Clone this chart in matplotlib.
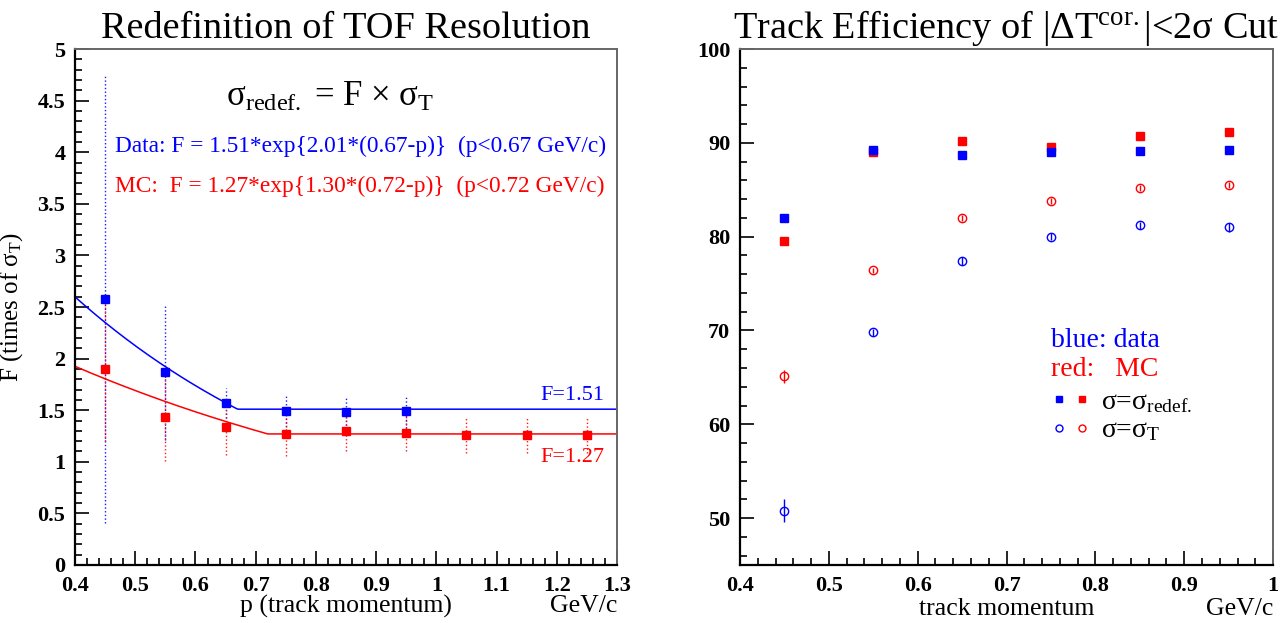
import matplotlib
matplotlib.use('Agg')
import matplotlib.pyplot as plt
import numpy as np
from matplotlib.ticker import MultipleLocator
from matplotlib.legend_handler import HandlerTuple

plt.rcParams['font.family'] = ['Liberation Serif', 'DejaVu Serif']
plt.rcParams['mathtext.fontset'] = 'custom'
plt.rcParams['mathtext.rm'] = 'Liberation Serif'
plt.rcParams['mathtext.it'] = 'Liberation Serif:italic'
plt.rcParams['mathtext.bf'] = 'Liberation Serif:bold'

# Left panel data: resolution factor F vs momentum
p_left = [0.45, 0.55, 0.65, 0.75, 0.85, 0.95, 1.05, 1.15, 1.25]
f_data = [2.58, 1.87, 1.57, 1.49, 1.48, 1.49]
f_data_err = [2.17, 0.66, 0.15, 0.15, 0.16, 0.16]
f_mc = [1.90, 1.43, 1.34, 1.27, 1.30, 1.28, 1.26, 1.26, 1.26]
f_mc_err = [0.70, 0.42, 0.27, 0.21, 0.20, 0.18, 0.17, 0.17, 0.17]

# fit parameters (F = a*exp{b*(p0-p)} for p<p0, else a)
fit_data = (1.51, 2.01, 0.67)
fit_mc = (1.27, 1.30, 0.72)

# Right panel data: track efficiency (%)
p_right = [0.45, 0.55, 0.65, 0.75, 0.85, 0.95]
eff_data_redef = [82.0, 89.2, 88.7, 89.0, 89.1, 89.2]
eff_mc_redef = [79.5, 89.0, 90.2, 89.6, 90.7, 91.2]
eff_mc_T = [65.1, 76.4, 82.0, 83.8, 85.2, 85.5]
eff_mc_T_err = [0.7, 0.3, 0.3, 0.3, 0.3, 0.3]
eff_data_T = [50.8, 69.8, 77.4, 80.0, 81.2, 81.0]
eff_data_T_err = [1.2, 0.4, 0.4, 0.4, 0.4, 0.5]

BLUE = '#0000ff'
RED = '#ff0000'
SIG = r'\mathrm{σ}'

fig = plt.figure(figsize=(12.87, 6.23), dpi=100, facecolor='white')
ax1 = fig.add_axes([0.0583, 0.0931, 0.4211, 0.8282])
ax2 = fig.add_axes([0.575, 0.0931, 0.4142, 0.8282])


def style_axes(ax):
    for s in ['left', 'bottom']:
        ax.spines[s].set_color('black')
        ax.spines[s].set_linewidth(1.6)
    for s in ['top', 'right']:
        ax.spines[s].set_color('#666666')
        ax.spines[s].set_linewidth(1.4)
    ax.tick_params(which='both', direction='in', top=False, right=False,
                   width=1.2)
    ax.tick_params(axis='y', pad=7)
    ax.tick_params(axis='x', pad=8)
    ax.tick_params(which='major', length=10, labelsize=16)
    ax.tick_params(which='minor', length=5)
    for lab in ax.get_xticklabels() + ax.get_yticklabels():
        lab.set_fontweight('bold')


# ---- left panel ----
ax1.errorbar(p_left[:len(f_data)], f_data, yerr=f_data_err, fmt='none',
             ecolor=BLUE, elinewidth=1, alpha=0.9)
ax1.errorbar(p_left, f_mc, yerr=f_mc_err, fmt='none',
             ecolor=RED, elinewidth=1, alpha=0.9)
for cont in ax1.containers:
    for lc in cont.lines[2]:
        lc.set_linestyle(':')

pp = np.linspace(0.4, 1.3, 400)
for (a, b, p0), col in [(fit_data, BLUE), (fit_mc, RED)]:
    ff = np.where(pp < p0, a * np.exp(b * (p0 - pp)), a)
    ax1.plot(pp, ff, color=col, linewidth=1.1)

ax1.plot(p_left[:len(f_data)], f_data, 's', color=BLUE, markersize=5.5)
ax1.plot(p_left, f_mc, 's', color=RED, markersize=5.5)

ax1.set_xlim(0.4, 1.3)
ax1.set_ylim(0, 5)
ax1.xaxis.set_minor_locator(MultipleLocator(0.02))
ax1.yaxis.set_minor_locator(MultipleLocator(0.1))
ax1.set_xticks(np.round(np.arange(0.4, 1.31, 0.1), 1))
ax1.set_xticklabels(['0.4', '0.5', '0.6', '0.7', '0.8', '0.9', '1', '1.1', '1.2', '1.3'])
ax1.set_yticks(np.arange(0, 5.01, 0.5))
ax1.set_yticklabels(['0', '0.5', '1', '1.5', '2', '2.5', '3', '3.5', '4', '4.5', '5'])
style_axes(ax1)

ax1.set_title('Redefinition of TOF Resolution', fontsize=27.5, pad=8)
ax1.text(0.5, -0.08, 'p (track momentum)', transform=ax1.transAxes,
         fontsize=18.5, ha='center', va='center')
ax1.text(1.0, -0.08, 'GeV/c', transform=ax1.transAxes,
         fontsize=18.5, ha='right', va='center')
ax1.set_ylabel(r'F (times of $' + SIG + r'_\mathrm{T}$)', fontsize=18, labelpad=9)

ax1.text(0.824, 4.53, r'$' + SIG + r'_{\mathrm{redef.}}$ = F $\times$ $' + SIG + r'_{\mathrm{T}}$',
         fontsize=25, ha='center', va='center')
ax1.text(0.466, 4.06, 'Data: F = 1.51*exp{2.01*(0.67-p)}  (p<0.67 GeV/c)',
         fontsize=16.8, color=BLUE, ha='left', va='center')
ax1.text(0.466, 3.67, 'MC:  F = 1.27*exp{1.30*(0.72-p)}  (p<0.72 GeV/c)',
         fontsize=16.8, color=RED, ha='left', va='center')
ax1.text(1.279, 1.64, 'F=1.51', fontsize=16, color=BLUE, ha='right', va='center')
ax1.text(1.279, 1.04, 'F=1.27', fontsize=16, color=RED, ha='right', va='center')

# ---- right panel ----
ax2.errorbar(p_right, eff_mc_T, yerr=eff_mc_T_err, fmt='o', color=RED,
             mfc='none', markersize=6, elinewidth=1, mew=1)
ax2.errorbar(p_right, eff_data_T, yerr=eff_data_T_err, fmt='o', color=BLUE,
             mfc='none', markersize=6, elinewidth=1, mew=1)
ax2.plot(p_right, eff_mc_redef, 's', color=RED, markersize=6)
ax2.plot(p_right, eff_data_redef, 's', color=BLUE, markersize=6)

ax2.set_xlim(0.4, 1.0)
ax2.set_ylim(45, 100)
ax2.xaxis.set_minor_locator(MultipleLocator(0.02))
ax2.yaxis.set_minor_locator(MultipleLocator(2))
ax2.set_xticks(np.round(np.arange(0.4, 1.01, 0.1), 1))
ax2.set_xticklabels(['0.4', '0.5', '0.6', '0.7', '0.8', '0.9', '1'])
ax2.set_yticks([50, 60, 70, 80, 90, 100])
ax2.set_yticklabels(['50', '60', '70', '80', '90', '100'])
style_axes(ax2)

ax2.set_title(r'Track Efficiency of $|\mathrm{ΔT}^{\mathrm{cor.}}|$<2$' + SIG + r'$ Cut',
              fontsize=27.5, pad=8)
ax2.text(0.5, -0.086, 'track momentum', transform=ax2.transAxes,
         fontsize=18.5, ha='center', va='center')
ax2.text(1.0, -0.086, 'GeV/c', transform=ax2.transAxes,
         fontsize=18.5, ha='right', va='center')

ax2.text(0.583, 0.435, 'blue: data', transform=ax2.transAxes, fontsize=20,
         color=BLUE, ha='left', va='center')
ax2.text(0.583, 0.378, 'red:   MC', transform=ax2.transAxes, fontsize=20,
         color=RED, ha='left', va='center')

lg_b_sq = plt.Line2D([], [], marker='s', color=BLUE, linestyle='none', markersize=5)
lg_r_sq = plt.Line2D([], [], marker='s', color=RED, linestyle='none', markersize=5)
lg_b_ci = plt.Line2D([], [], marker='o', color=BLUE, mfc='none', linestyle='none', markersize=5)
lg_r_ci = plt.Line2D([], [], marker='o', color=RED, mfc='none', linestyle='none', markersize=5)
ax2.legend([(lg_b_sq, lg_r_sq), (lg_b_ci, lg_r_ci)],
           [r'$' + SIG + '$=$' + SIG + r'_{\mathrm{redef.}}$', r'$' + SIG + '$=$' + SIG + r'_{\mathrm{T}}$'],
           handler_map={tuple: HandlerTuple(ndivide=None, pad=0.35)},
           loc='upper left', bbox_to_anchor=(0.565, 0.362), frameon=False,
           fontsize=20, handlelength=1.3, handletextpad=0.45, labelspacing=0.12,
           borderaxespad=0)

fig.savefig('out.png', dpi=100)
